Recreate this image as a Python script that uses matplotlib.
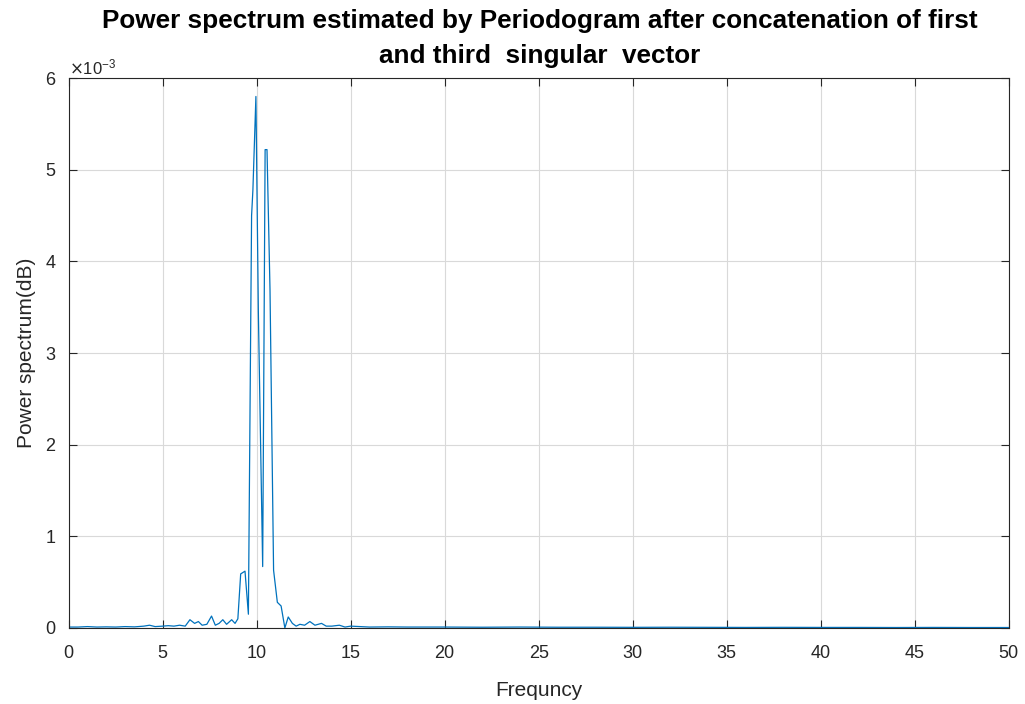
import numpy as np
import matplotlib
matplotlib.use("Agg")
import matplotlib.pyplot as plt
from matplotlib.ticker import ScalarFormatter

# Frequency (Hz) and power (in units of 1e-3)
freq = [0.0, 0.5, 1.0, 1.5, 2.0, 2.5, 3.0, 3.5, 4.0, 4.3, 4.6, 5.0, 5.3, 5.6, 5.9,
        6.2, 6.45, 6.7, 6.9, 7.1, 7.35, 7.6, 7.8, 8.0, 8.2, 8.4, 8.67, 8.85, 9.0,
        9.15, 9.38, 9.56, 9.73, 9.8, 9.96, 10.09, 10.32, 10.45, 10.55, 10.71, 10.9,
        11.1, 11.3, 11.5, 11.68, 11.9, 12.1, 12.3, 12.55, 12.83, 13.1, 13.45, 13.7,
        14.0, 14.4, 14.7, 15.0, 16.0, 17.0, 18.0, 19.0, 20.0, 22.0, 24.0, 26.0, 28.0,
        30.0, 32.0, 34.0, 36.0, 38.0, 40.0, 42.0, 44.0, 46.0, 48.0, 50.0]
power_e3 = [0.01, 0.01, 0.015, 0.01, 0.012, 0.01, 0.015, 0.012, 0.02, 0.03, 0.015, 0.02, 0.025, 0.02, 0.03,
            0.02, 0.09, 0.05, 0.07, 0.03, 0.04, 0.13, 0.03, 0.05, 0.09, 0.04, 0.09, 0.05, 0.10,
            0.59, 0.62, 0.15, 4.50, 4.78, 5.80, 3.45, 0.67, 5.22, 5.22, 3.69, 0.63,
            0.28, 0.24, 0.0, 0.12, 0.05, 0.02, 0.04, 0.03, 0.07, 0.03, 0.05, 0.02,
            0.02, 0.03, 0.01, 0.02, 0.01, 0.012, 0.01, 0.01, 0.01, 0.008, 0.01, 0.008, 0.008,
            0.007, 0.008, 0.007, 0.006, 0.007, 0.006, 0.006, 0.005, 0.006, 0.005, 0.005]

title_lines = ["Power spectrum estimated by Periodogram after concatenation of first",
               "and third  singular  vector"]
xlabel_text = "Frequncy"
ylabel_text = "Power spectrum(dB)"

plt.rcParams['font.family'] = ['Liberation Sans', 'DejaVu Sans']
axcol = '#262626'

fig = plt.figure(figsize=(10.25, 7.04), dpi=100)
ax = fig.add_axes([0.067, 0.108, 0.917, 0.781])
ax.plot(freq, np.array(power_e3) * 1e-3, color='#0072BD', lw=0.9)

ax.set_xlim(0, 50)
ax.set_ylim(0, 6e-3)
ax.set_xticks(np.arange(0, 51, 5))
ax.set_yticks(np.arange(0, 7) * 1e-3)
fmt = ScalarFormatter(useMathText=True)
fmt.set_powerlimits((-2, 2))
ax.yaxis.set_major_formatter(fmt)
ax.yaxis.get_offset_text().set_fontsize(12)
ax.yaxis.get_offset_text().set_color(axcol)

ax.grid(True, color='#d9d9d9', lw=0.8)
ax.set_axisbelow(True)
ax.tick_params(direction='in', top=True, right=True, length=6, width=0.8,
               colors=axcol, labelsize=13)
ax.tick_params(axis='x', pad=12)
ax.tick_params(axis='y', pad=9)
for s in ax.spines.values():
    s.set_color(axcol)
    s.set_linewidth(0.8)

for line, base_px in zip(title_lines, [28, 63]):
    fig.text(540 / 1025, 1 - base_px / 704, line, fontsize=18.8, fontweight='bold',
             color='black', ha='center', va='baseline')
ax.set_xlabel(xlabel_text, fontsize=15, color=axcol, labelpad=14)
ax.set_ylabel(ylabel_text, fontsize=15, color=axcol, labelpad=6)

fig.savefig('out.png', dpi=100)
